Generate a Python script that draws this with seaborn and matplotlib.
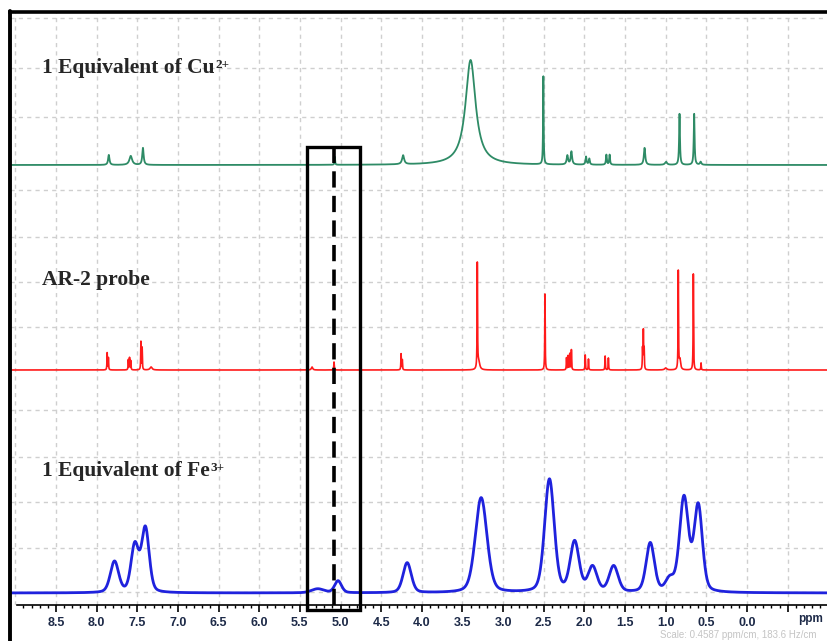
import numpy as np
import pandas as pd
import matplotlib
matplotlib.use("Agg")
import matplotlib.pyplot as plt
from matplotlib.patches import Rectangle
from matplotlib.lines import Line2D
import seaborn as sns

# ---------------- data (peak lists) ----------------
# positions in ppm, heights in px-like intensity units, widths (FWHM, ppm)
cu_pos = [7.85, 7.58, 7.43, 5.07, 4.23, 3.40, 2.505, 2.21, 2.16, 1.98, 1.94, 1.73, 1.69, 1.26, 0.996, 0.83, 0.65, 0.57]
cu_hgt = [10, 9, 17, 8, 9, 105, 88, 9, 13, 8, 6, 10, 10, 17, 3, 51, 51, 3]
cu_wid = [0.02, 0.04, 0.02, 0.008, 0.03, 0.15, 0.008, 0.02, 0.02, 0.015, 0.015, 0.012, 0.012, 0.02, 0.03, 0.012, 0.012, 0.02]

ar_pos = [7.87, 7.855, 7.61, 7.595, 7.58, 7.455, 7.44, 7.33, 5.35, 5.08, 4.255, 4.24, 3.317, 3.30, 2.485,
          2.22, 2.20, 2.18, 2.16, 1.99, 1.95, 1.745, 1.705, 1.285, 1.275, 1.265, 1.0, 0.845, 0.825, 0.66, 0.565]
ar_hgt = [17, 12, 10, 12, 9, 28, 22, 3, 3, 8, 16, 10, 105, 8, 76,
          12, 14, 16, 20, 15, 11, 14, 12, 20, 38, 20, 2, 98, 10, 96, 7]
ar_wid = [0.006] * len(ar_pos)
ar_wid[7] = 0.03
ar_wid[8] = 0.02
ar_wid[13] = 0.03
ar_wid[26] = 0.03
ar_wid[28] = 0.02

fe_pos = [7.78, 7.53, 7.40, 5.28, 5.03, 4.18, 3.27, 2.43, 2.12, 1.90, 1.64, 1.19, 0.95, 0.775, 0.60]
fe_hgt = [31, 47, 64, 4, 12, 30, 95, 113, 50, 25, 26, 49, 12, 94, 86]
fe_wid = [0.12, 0.11, 0.11, 0.18, 0.10, 0.12, 0.17, 0.14, 0.13, 0.13, 0.13, 0.12, 0.12, 0.13, 0.12]

labels = ["1 Equivalent of Cu", "AR-2 probe", "1 Equivalent of Fe"]
supers = ["2+", "", "3+"]
offsets = [440, 235, 12]            # stacking offsets (px units above the ruler)
colors = ["#2e8b66", "#ff1a1a", "#1f22dd"]
tick_vals = [8.5, 8.0, 7.5, 7.0, 6.5, 6.0, 5.5, 5.0, 4.5, 4.0, 3.5, 3.0, 2.5, 2.0, 1.5, 1.0, 0.5, 0.0]
marker_ppm = 5.08
box_ppm = (5.41, 4.76)

# ---------------- build spectra ----------------
ppm = np.linspace(9.2, -1.4, 24000)

def spectrum(pos, hgt, wid, eta=1.0):
    y = np.zeros_like(ppm)
    for p, h, w in zip(pos, hgt, wid):
        g = w / 2.0
        lor = g**2 / ((ppm - p)**2 + g**2)
        gau = np.exp(-4 * np.log(2) * (ppm - p)**2 / w**2)
        y += h * (eta * lor + (1 - eta) * gau)
    return y

specs = [spectrum(cu_pos, cu_hgt, cu_wid),
         spectrum(ar_pos, ar_hgt, ar_wid),
         spectrum(fe_pos, fe_hgt, fe_wid, eta=0.3)]

frames = []
for lab, sp, off in zip(labels, specs, offsets):
    frames.append(pd.DataFrame({"ppm": ppm, "y": sp + off, "name": lab}))
df = pd.concat(frames, ignore_index=True)

# ---------------- figure ----------------
sns.set_style("white")
W, H = 828, 641
fig = plt.figure(figsize=(W / 100, H / 100), dpi=100)

px_left, px_top, px_ruler, px_right = 10, 12, 605, 860
ax = fig.add_axes([px_left / W, 1 - px_ruler / H, (px_right - px_left) / W, (px_ruler - px_top) / H])
x_at = lambda px: (747 - px) / 81.3
ax.set_xlim(x_at(px_left), x_at(px_right))
ax.set_ylim(0, px_ruler - px_top)

sns.lineplot(data=df, x="ppm", y="y", hue="name", palette=dict(zip(labels, colors)),
             sort=False, estimator=None, legend=False, ax=ax, zorder=3)
for line, lw in zip(ax.get_lines(), [1.3, 1.2, 2.0]):
    line.set_linewidth(lw)

# grid
grid_y_px = [18, 68, 117, 190, 237, 282, 327, 410, 457, 502, 548, 592]
for gy in grid_y_px:
    ax.axhline(px_ruler - gy, color="#cfcfcf", lw=1.0, ls=(0, (3, 3)), zorder=1)
for gx in np.arange(9.0, -1.01, -0.5):
    ax.axvline(gx, color="#cfcfcf", lw=1.0, ls=(0, (3, 3)), zorder=1)

# spines
for s in ["left", "right"]:
    ax.spines[s].set_visible(False)
ax.spines["top"].set_linewidth(2.6)
ax.spines["top"].set_color("black")
ax.spines["bottom"].set_color("black")
ax.spines["bottom"].set_linewidth(1.2)
ax.spines["bottom"].set_bounds(x_at(17), x_at(px_right))
fig.add_artist(Line2D([px_left / W, px_left / W], [0, 1 - (px_top - 1) / H], color="black", lw=2.8,
                      transform=fig.transFigure))

# ticks
ax.set_yticks([])
ax.set_ylabel("")
ax.set_xlabel("")
major = list(tick_vals) + [-0.5, -1.0]
ax.set_xticks(major)
ax.set_xticklabels([f"{v:.1f}" for v in tick_vals] + ["", ""])
ax.set_xticks(np.round(np.arange(8.9, -1.3, -0.1), 1), minor=True)
ax.tick_params(axis="x", which="major", direction="out", length=5, width=1.2, color="black",
               labelsize=9, labelcolor="#1d2a48", pad=4, bottom=True)
ax.tick_params(axis="x", which="minor", direction="out", length=2.5, width=1.0, color="black", bottom=True)
for t in ax.get_xticklabels():
    t.set_fontweight("bold")
    t.set_family("Liberation Sans")

# box and dashed marker
ax.add_patch(Rectangle((box_ppm[0], px_ruler - 610), box_ppm[1] - box_ppm[0], 610 - 147,
                       fill=False, ec="black", lw=2.4, zorder=5, clip_on=False))
ax.plot([marker_ppm, marker_ppm], [0, px_ruler - 148], color="black", lw=2.6,
        ls=(0, (4.5, 2.3)), zorder=5)

# labels
label_y = [73, 285, 476]
for lab, sup, ly in zip(labels, supers, label_y):
    t = fig.text(42 / W, 1 - ly / H, lab, family="Liberation Serif", fontweight="bold",
                 fontsize=15.5, va="baseline", ha="left")
    if sup:
        ax.annotate(sup, xy=(1.0, 0.93), xycoords=t, xytext=(0.5, 0), textcoords="offset points",
                    family="Liberation Serif", fontweight="bold", fontsize=9.5, va="top", ha="left",
                    annotation_clip=False)

fig.text(798 / W, 1 - 619 / H, "ppm", family="Liberation Sans", fontweight="bold", fontsize=8.5,
         color="#1d2a48", va="center", ha="left")
fig.text(660 / W, 1 - 635 / H, "Scale: 0.4587 ppm/cm, 183.6 Hz/cm", family="Liberation Sans",
         fontsize=7, color="#c4c4c4", va="center", ha="left")

fig.savefig("out.png", dpi=100)
